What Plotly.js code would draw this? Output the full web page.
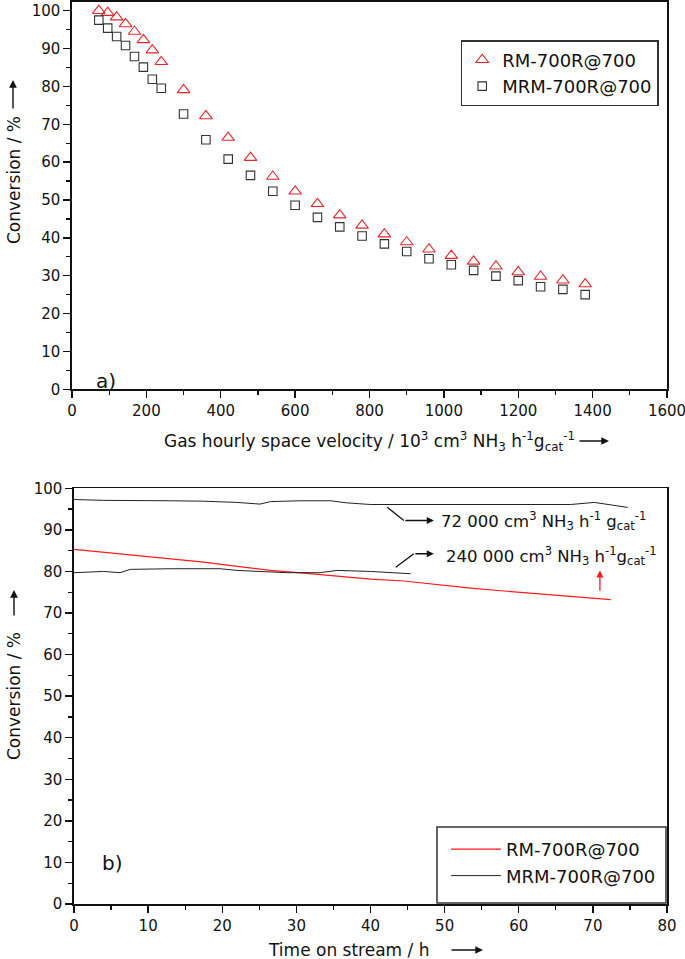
<!DOCTYPE html>
<html>
<head>
<meta charset="utf-8">
<script src="https://cdn.plot.ly/plotly-3.0.1.min.js"></script>
<style>html,body{margin:0;padding:0;background:#fff;}#chart{width:685px;height:959px;}</style>
</head>
<body>
<div id="chart"></div>
<script>
// ---- Panel a) data ----
const gsv = [72, 96, 120, 144, 168, 192, 216, 240, 300, 360, 420, 480, 540, 600, 660, 720, 780, 840, 900, 960, 1020, 1080, 1140, 1200, 1260, 1320, 1380];
const convRM = [100, 99.5, 98.3, 96.5, 94.5, 92.3, 89.6, 86.5, 79.1, 72.2, 66.5, 61.2, 56.2, 52.3, 49.0, 46.0, 43.3, 41.0, 38.9, 37.0, 35.3, 33.8, 32.5, 31.0, 29.8, 28.8, 27.8];
const convMRM = [97.5, 95.4, 93.2, 90.8, 87.9, 85.1, 81.9, 79.5, 72.7, 65.9, 60.8, 56.5, 52.3, 48.6, 45.4, 42.9, 40.5, 38.4, 36.4, 34.5, 32.9, 31.4, 29.9, 28.7, 27.1, 26.4, 25.0];

// ---- Panel b) data ----
const timeRM = [0, 4, 8.5, 13, 17.5, 22, 26.5, 31, 35.5, 40, 44.5, 49, 53.5, 58, 62.5, 67, 72.4];
const tosRM = [85.3, 84.6, 83.85, 83.05, 82.25, 81.2, 80.25, 79.6, 78.9, 78.15, 77.7, 76.8, 76.0, 75.3, 74.65, 74.0, 73.2];
const timeMRM72 = [0, 4, 13, 17.5, 22, 25.1, 26.5, 30.5, 34.6, 36.8, 40, 46.8, 53.5, 60.3, 67, 70.2, 72.4, 74.7];
const tosMRM72 = [97.3, 97.1, 97.0, 96.9, 96.6, 96.2, 96.8, 97.0, 97.0, 96.5, 96.1, 96.1, 96.1, 96.2, 96.1, 96.6, 96.1, 95.4];
const timeMRM240 = [0, 4, 6.2, 7.6, 13, 19.7, 22, 25.1, 28.7, 33.2, 35.5, 40, 45.4];
const tosMRM240 = [79.7, 80.0, 79.7, 80.5, 80.65, 80.65, 80.25, 80.0, 79.7, 79.7, 80.25, 80.0, 79.45];

const seriesNames = ['RM-700R@700', 'MRM-700R@700'];
const labelA = 'a)', labelB = 'b)';
const yTitle = 'Conversion / %';
const xTitleA = 'Gas hourly space velocity / 10<sup>3</sup> cm<sup>3</sup> NH<sub>3</sub> h<sup>-1</sup>g<sub>cat</sub><sup>-1</sup>';
const xTitleB = 'Time on stream / h';
const note72 = '72 000 cm<sup>3</sup> NH<sub>3</sub> h<sup>-1</sup> g<sub>cat</sub><sup>-1</sup>';
const note240 = '240 000 cm<sup>3</sup> NH<sub>3</sub> h<sup>-1</sup>g<sub>cat</sub><sup>-1</sup>';

// ---- layout helpers (pixel -> paper) ----
const W = 685, H = 959, ML = 72, MR = 18, MT = 2, MB = 55;
const PW = W - ML - MR, PH = H - MT - MB;
const pxX = x => (x - ML) / PW;
const pxY = y => (H - MB - y) / PH;

const FONT = 'DejaVu Sans';
const RED = '#e8262b', DARK = '#333333';

const traces = [
  {x: gsv, y: convRM, name: seriesNames[0], mode: 'markers', type: 'scatter', xaxis: 'x', yaxis: 'y', legend: 'legend',
   marker: {symbol: 'triangle-up-open', size: 11, color: RED, line: {width: 1.1, color: RED}}},
  {x: gsv, y: convMRM, name: seriesNames[1], mode: 'markers', type: 'scatter', xaxis: 'x', yaxis: 'y', legend: 'legend',
   marker: {symbol: 'square-open', size: 8.5, color: DARK, line: {width: 1.1, color: DARK}}},
  {x: timeRM, y: tosRM, name: seriesNames[0], mode: 'lines', type: 'scatter', xaxis: 'x2', yaxis: 'y2', legend: 'legend2',
   line: {color: '#ff1a1a', width: 1.2}},
  {x: timeMRM72, y: tosMRM72, name: seriesNames[1], mode: 'lines', type: 'scatter', xaxis: 'x2', yaxis: 'y2', legend: 'legend2',
   line: {color: '#222', width: 1}},
  {x: timeMRM240, y: tosMRM240, name: seriesNames[1], mode: 'lines', type: 'scatter', xaxis: 'x2', yaxis: 'y2', legend: 'legend2',
   showlegend: false, line: {color: '#222', width: 1}}
];

const axBase = {
  showline: true, mirror: true, linecolor: '#111', linewidth: 1.6,
  ticks: 'outside', ticklen: 7, tickwidth: 1.4, tickcolor: '#111',
  showgrid: false, zeroline: false, ticklabeloverflow: 'allow',
  tickfont: {family: FONT, size: 15, color: '#111'},
  fixedrange: true
};

const layout = {
  width: W, height: H,
  margin: {l: ML, r: MR, t: MT, b: MB},
  paper_bgcolor: '#fff', plot_bgcolor: '#fff',
  font: {family: FONT, color: '#111'},
  xaxis: Object.assign({}, axBase, {domain: [0, 1], range: [0, 1600], dtick: 200, tick0: 0, anchor: 'y',
    minor: {dtick: 100, ticklen: 4, tickwidth: 1.2, tickcolor: '#111', ticks: 'outside'}}),
  yaxis: Object.assign({}, axBase, {domain: [pxY(389.3), 1], range: [0, 102.3], dtick: 10, tick0: 0, anchor: 'x',
    minor: {dtick: 5, ticklen: 4, tickwidth: 1.2, tickcolor: '#111', ticks: 'outside'}}),
  xaxis2: Object.assign({}, axBase, {domain: [pxX(74), 1], range: [0, 80], dtick: 10, tick0: 0, anchor: 'y2',
    minor: {dtick: 5, ticklen: 4, tickwidth: 1.2, tickcolor: '#111', ticks: 'outside'}}),
  yaxis2: Object.assign({}, axBase, {domain: [0, pxY(488.3)], range: [0, 100], dtick: 10, tick0: 0, anchor: 'x2',
    minor: {dtick: 5, ticklen: 4, tickwidth: 1.2, tickcolor: '#111', ticks: 'outside'}}),
  legend: {x: pxX(460.7), y: pxY(40), xanchor: 'left', yanchor: 'top', bgcolor: '#fff',
    bordercolor: '#333', borderwidth: 1.5, font: {family: FONT, size: 18, color: '#111'}},
  legend2: {x: pxX(446), y: pxY(831), xanchor: 'left', yanchor: 'top', bgcolor: 'rgba(0,0,0,0)', itemwidth: 50,
    borderwidth: 0, font: {family: FONT, size: 18, color: '#111'}},
  showlegend: true,
  shapes: [
    {type: 'rect', xref: 'paper', yref: 'paper', x0: pxX(437), x1: pxX(666), y0: pxY(903), y1: pxY(827),
     fillcolor: '#fff', line: {color: '#333', width: 1.5}, layer: 'above'},
    {type: 'line', xref: 'x2', yref: 'y2', x0: 42.26, y0: 95.44, x1: 44.5, y1: 92.25, line: {color: '#111', width: 1.3}},
    {type: 'line', xref: 'x2', yref: 'y2', x0: 43.4, y0: 81.0, x1: 45.85, y1: 84.25, line: {color: '#111', width: 1.3}}
  ],
  annotations: [
    // panel a titles
    {xref: 'paper', yref: 'paper', x: pxX(14), y: pxY(180), text: yTitle, textangle: -90, showarrow: false,
     xanchor: 'center', yanchor: 'middle', font: {family: FONT, size: 17, color: '#111'}},
    {xref: 'paper', yref: 'paper', x: pxX(13), y: pxY(80), text: '', showarrow: true, ax: 0, ay: 30,
     arrowhead: 2, arrowsize: 1.1, arrowwidth: 1.4, arrowcolor: '#111', standoff: 0},
    {xref: 'paper', yref: 'paper', x: pxX(162), y: pxY(441), text: xTitleA, showarrow: false,
     xanchor: 'left', yanchor: 'middle', font: {family: FONT, size: 17, color: '#111'}},
    {xref: 'paper', yref: 'paper', x: pxX(609), y: pxY(441), text: '', showarrow: true, ax: -31, ay: 0,
     arrowhead: 2, arrowsize: 1.1, arrowwidth: 1.4, arrowcolor: '#111', standoff: 0},
    {xref: 'paper', yref: 'paper', x: pxX(106), y: pxY(381), text: labelA, showarrow: false,
     xanchor: 'center', yanchor: 'middle', font: {family: FONT, size: 20, color: '#111'}},
    // panel b titles
    {xref: 'paper', yref: 'paper', x: pxX(14), y: pxY(696), text: yTitle, textangle: -90, showarrow: false,
     xanchor: 'center', yanchor: 'middle', font: {family: FONT, size: 17, color: '#111'}},
    {xref: 'paper', yref: 'paper', x: pxX(14), y: pxY(590), text: '', showarrow: true, ax: 0, ay: 27,
     arrowhead: 2, arrowsize: 1.1, arrowwidth: 1.4, arrowcolor: '#111', standoff: 0},
    {xref: 'paper', yref: 'paper', x: pxX(266), y: pxY(950), text: xTitleB, showarrow: false,
     xanchor: 'left', yanchor: 'middle', font: {family: FONT, size: 17, color: '#111'}},
    {xref: 'paper', yref: 'paper', x: pxX(483), y: pxY(950), text: '', showarrow: true, ax: -33, ay: 0,
     arrowhead: 2, arrowsize: 1.1, arrowwidth: 1.4, arrowcolor: '#111', standoff: 0},
    {xref: 'paper', yref: 'paper', x: pxX(112), y: pxY(863), text: labelB, showarrow: false,
     xanchor: 'center', yanchor: 'middle', font: {family: FONT, size: 20, color: '#111'}},
    // panel b notes
    {xref: 'x2', yref: 'y2', x: 48.55, y: 92.25, axref: 'x2', ayref: 'y2', ax: 44.5, ay: 92.25, text: '',
     showarrow: true, arrowhead: 2, arrowsize: 1.1, arrowwidth: 1.3, arrowcolor: '#111', standoff: 0},
    {xref: 'x2', yref: 'y2', x: 49.23, y: 92.25, text: note72, showarrow: false, xanchor: 'left', yanchor: 'middle',
     font: {family: FONT, size: 16.5, color: '#111'}},
    {xref: 'x2', yref: 'y2', x: 48.55, y: 84.25, axref: 'x2', ayref: 'y2', ax: 45.85, ay: 84.25, text: '',
     showarrow: true, arrowhead: 2, arrowsize: 1.1, arrowwidth: 1.3, arrowcolor: '#111', standoff: 0},
    {xref: 'x2', yref: 'y2', x: 49.9, y: 83.6, text: note240, showarrow: false, xanchor: 'left', yanchor: 'middle',
     font: {family: FONT, size: 16.5, color: '#111'}},
    {xref: 'x2', yref: 'y2', x: 70.95, y: 80.25, axref: 'x2', ayref: 'y2', ax: 70.95, ay: 75.0, text: '',
     showarrow: true, arrowhead: 2, arrowsize: 1.1, arrowwidth: 1.3, arrowcolor: '#ff1a1a', standoff: 0}
  ]
};

Plotly.newPlot('chart', traces, layout, {staticPlot: true, displayModeBar: false});
</script>
</body>
</html>
